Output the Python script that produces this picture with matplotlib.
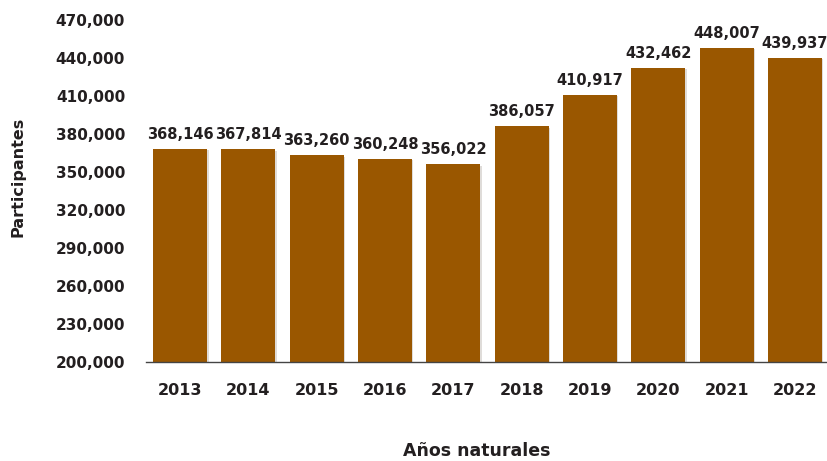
import matplotlib
matplotlib.use("Agg")
import matplotlib.pyplot as plt
import matplotlib.patheffects as pe
from matplotlib.ticker import FuncFormatter

years = ["2013", "2014", "2015", "2016", "2017", "2018", "2019", "2020", "2021", "2022"]
participants = [368146, 367814, 363260, 360248, 356022, 386057, 410917, 432462, 448007, 439937]
y_ticks = [200000, 230000, 260000, 290000, 320000, 350000, 380000, 410000, 440000, 470000]

BAR = "#9A5700"
TXT = "#231F20"

plt.rcParams["font.family"] = ["DejaVu Sans"]
plt.rcParams["font.weight"] = "bold"

fig = plt.figure(figsize=(8.28, 4.61), dpi=100)
ax = fig.add_axes([146 / 828, 1 - 362 / 461, (829 - 146) / 828, (362 - 20) / 461])

x = range(len(years))
bars = ax.bar(x, participants, width=0.79, color=BAR, zorder=2)
for b in bars:
    b.set_path_effects([pe.SimplePatchShadow(offset=(1, -1), alpha=0.15), pe.Normal()])

for xi, v in zip(x, participants):
    ax.annotate(f"{v:,}", (xi, v), xytext=(0, 5), textcoords="offset points",
                ha="center", va="bottom", fontsize=10.5, fontweight="bold", color=TXT,
                annotation_clip=False)

ax.set_ylim(200000, 470000)
ax.set_xlim(-0.5, len(years) - 0.5)
ax.set_yticks(y_ticks)
ax.yaxis.set_major_formatter(FuncFormatter(lambda v, _: f"{int(v):,}"))
ax.set_xticks(list(x))
ax.set_xticklabels(years)

for s in ["top", "right", "left"]:
    ax.spines[s].set_visible(False)
ax.spines["bottom"].set_color("#444444")
ax.spines["bottom"].set_linewidth(1.0)
ax.tick_params(axis="y", length=0, pad=15, labelsize=11, labelcolor=TXT)
ax.tick_params(axis="x", length=0, pad=15, labelsize=11.5, labelcolor=TXT)

fig.text(18 / 828, 1 - 177 / 461, "Participantes", rotation=90, ha="center", va="center",
         fontsize=11.5, fontweight="bold", color=TXT)
fig.text(477 / 828, 1 - 451 / 461, "Años naturales", ha="center", va="center",
         fontsize=12.5, fontweight="bold", color=TXT)

fig.savefig("out.png", dpi=100)
